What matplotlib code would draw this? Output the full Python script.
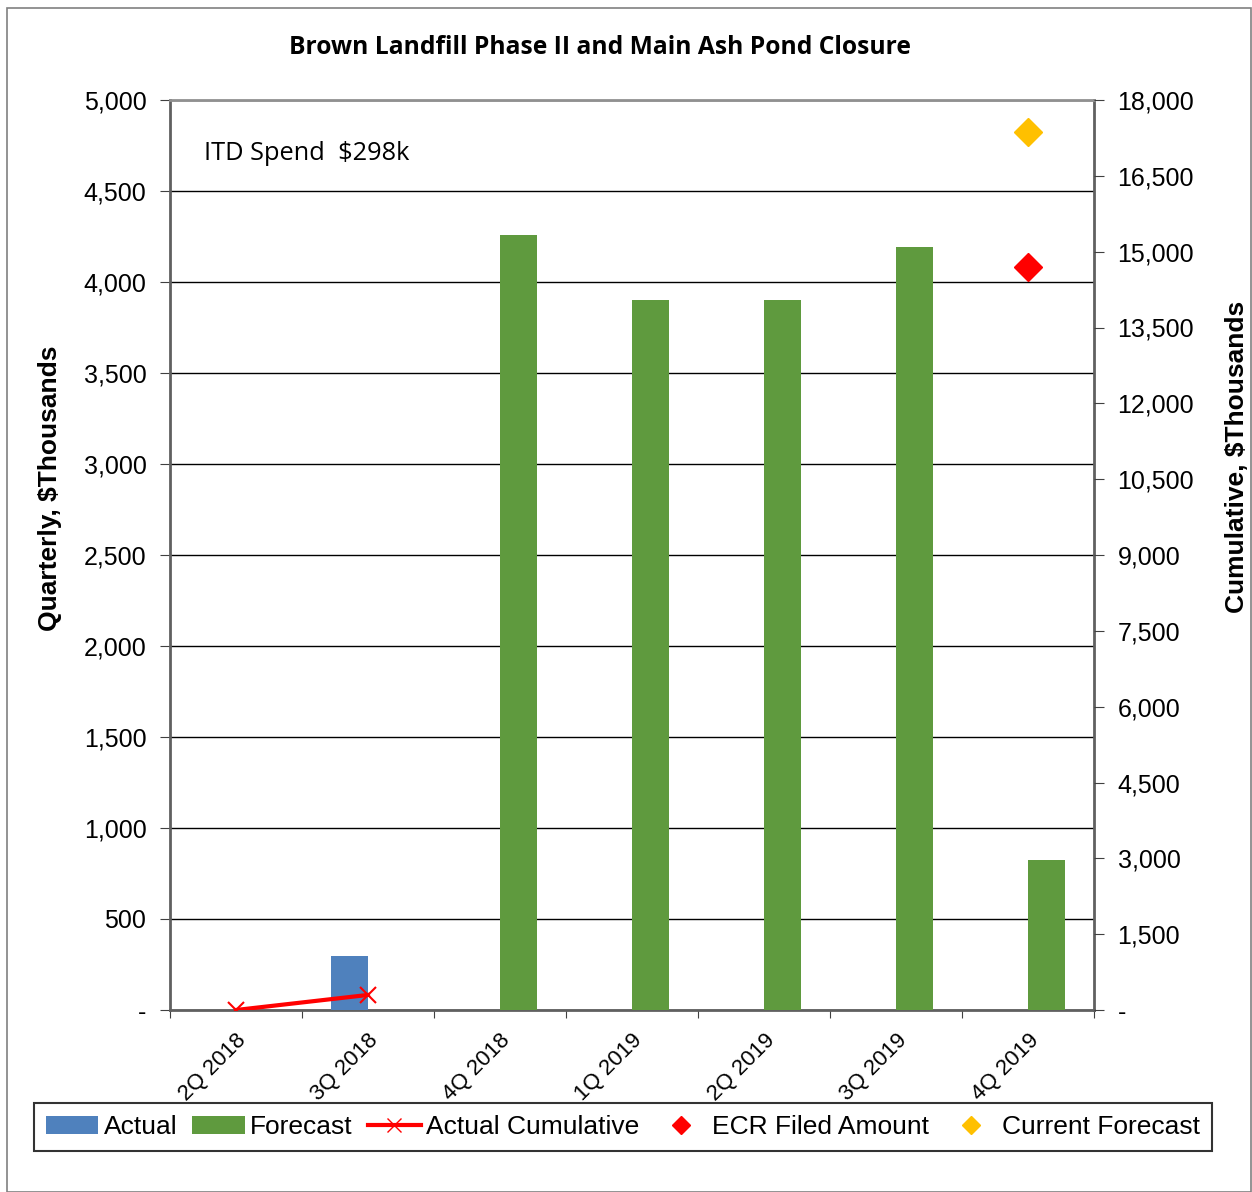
import matplotlib
matplotlib.use("Agg")
import matplotlib.pyplot as plt
import numpy as np
from matplotlib.ticker import FuncFormatter, MultipleLocator
from matplotlib.lines import Line2D
from matplotlib.patches import Patch, Rectangle

categories = ["2Q 2018", "3Q 2018", "4Q 2018", "1Q 2019", "2Q 2019", "3Q 2019", "4Q 2019"]
actual = [0, 298, 0, 0, 0, 0, 0]
forecast = [0, 0, 4260, 3900, 3900, 4190, 825]
actual_cum_idx = [0, 1]
actual_cum = [0, 298]
ecr_idx = 6
ecr_value = 14700
current_idx = 6
current_value = 17370

plt.rcParams['font.family'] = ['Liberation Sans', 'DejaVu Sans']

fig = plt.figure(figsize=(12.52, 11.92), dpi=100)
W, H = 1252, 1192
ax = fig.add_axes([170 / W, 1 - 1010 / H, 924 / W, 910 / H])

# outer border
fig.patches.append(Rectangle((7 / W, 0), 1 - 7 / W - 0.0005, 1 - 7 / H - 0.0005, transform=fig.transFigure,
                             fill=False, edgecolor='#808080', linewidth=1.2))

x = np.arange(len(categories))
bw = 0.28
ax.bar(x - bw / 2, actual, width=bw, color='#4F81BD', zorder=3)
ax.bar(x + bw / 2, forecast, width=bw, color='#5F9A3E', zorder=3)
ax.set_xlim(-0.5, len(categories) - 0.5)
ax.set_ylim(0, 5000)
ax.yaxis.set_major_locator(MultipleLocator(500))
ax.yaxis.set_major_formatter(FuncFormatter(lambda v, p: "-" if v == 0 else f"{v:,.0f}"))
ax.grid(axis='y', color='black', linewidth=1.0, zorder=0)
ax.set_axisbelow(True)
ax.set_xticks(np.arange(-0.5, len(categories), 1.0))
ax.set_xticklabels([])
ax.set_xticks(x, minor=True)
ax.set_xticklabels(categories, minor=True, rotation=45, ha='right', rotation_mode='anchor', fontsize=16)
ax.tick_params(axis='x', which='minor', length=0, pad=14)
ax.tick_params(axis='x', which='major', length=6, direction='out', color='#404040')
ax.tick_params(axis='y', labelsize=18, length=7, direction='out', color='#404040', pad=10)
for s in ['left', 'bottom', 'right', 'top']:
    ax.spines[s].set_color('#606060')
    ax.spines[s].set_linewidth(2)
ax.spines['top'].set_color('#909090')
fig.text(50 / W, 1 - 488 / H, "Quarterly, $Thousands", rotation=90, ha='center', va='center',
         fontsize=19, fontweight='bold')

ax2 = ax.twinx()
ax2.set_ylim(0, 18000)
ax2.yaxis.set_major_locator(MultipleLocator(1500))
ax2.yaxis.set_major_formatter(FuncFormatter(lambda v, p: "-" if v == 0 else f"{v:,.0f}"))
ax2.tick_params(axis='y', labelsize=18, length=7, direction='out', color='#404040', pad=10)
for s in ['left', 'bottom', 'right', 'top']:
    ax2.spines[s].set_visible(False)
ax2.plot(actual_cum_idx, actual_cum, color='#FF0000', linewidth=3, marker='x', markersize=12,
         markeredgewidth=1.5, zorder=5)
ax2.plot([ecr_idx], [ecr_value], marker='D', color='#FF0000', markersize=14, linestyle='none', zorder=5)
ax2.plot([current_idx], [current_value], marker='D', color='#FFC000', markersize=14, linestyle='none', zorder=5)
fig.text(1237 / W, 1 - 457 / H, "Cumulative, $Thousands", rotation=90, ha='center', va='center',
         fontsize=19, fontweight='bold')

fig.text(600 / W, 1 - 48 / H, "Brown Landfill Phase II and Main Ash Pond Closure", ha='center', va='center',
         fontsize=17.7, fontweight='bold', family=['Open Sans', 'DejaVu Sans'])
fig.text(204 / W, 1 - 153 / H, "ITD Spend  $298k", ha='left', va='center',
         fontsize=18.3, family=['Open Sans', 'DejaVu Sans'])

handles = [
    Patch(facecolor='#4F81BD', label='Actual'),
    Patch(facecolor='#5F9A3E', label='Forecast'),
    Line2D([], [], color='#FF0000', linewidth=3, marker='x', markersize=10, label='Actual Cumulative'),
    Line2D([], [], color='#FF0000', marker='D', linestyle='none', markersize=9, label='ECR Filed Amount'),
    Line2D([], [], color='#FFC000', marker='D', linestyle='none', markersize=9, label='Current Forecast'),
]
leg = fig.legend(handles=handles, loc='center', bbox_to_anchor=(623 / W, 1 - 1127 / H), ncol=5,
                 fontsize=19, frameon=True, fancybox=False, edgecolor='black', handlelength=2.0,
                 handletextpad=0.2, columnspacing=0.57, borderpad=0.45)
leg.get_frame().set_linewidth(1.5)

fig.savefig("out.png", dpi=100)
